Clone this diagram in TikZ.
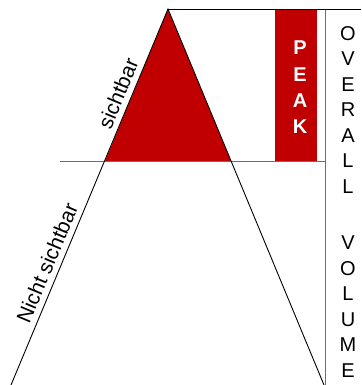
\documentclass[tikz,border=0pt]{standalone}
\usepackage{fontspec}
\setmainfont{Liberation Sans}
\definecolor{peakred}{RGB}{192,0,0}
\definecolor{framegray}{RGB}{110,110,110}

\begin{document}
\begin{tikzpicture}[x=1pt,y=-1pt,
  frame/.style={draw=framegray,line width=0.9pt},
  edge/.style={draw=black,line width=0.9pt},
  slopelabel/.style={sloped,above=5pt,inner sep=1pt,font=\fontsize{21}{24}\selectfont},
  letters/.style={align=center,inner sep=0pt,anchor=north}]
\useasboundingbox (0,0) rectangle (361,385);
\coordinate (apex) at (168,9);
\coordinate (bl) at (105,161);
\coordinate (br) at (231,161);
\coordinate (fl) at (11,385);
\coordinate (fr) at (324,385);
\fill[peakred] (apex) -- (bl) -- (br) -- cycle;
\fill[peakred] (275,9) rectangle (316.5,161);
\draw[frame] (60,161) -- (325.5,161);
\draw[frame] (325.5,9) -- (325.5,385);
\draw[edge] (apex) -- (361,9);
\draw[edge] (fl) -- (apex) -- (fr);
\path (bl) -- (apex) node[slopelabel,pos=0.41] (sicht) {sichtbar};
\path (fl) -- (bl) node[slopelabel,pos=0.52] (nicht) {Nicht sichtbar};
\node[letters,text=white,font=\fontsize{20}{26.1}\selectfont\bfseries] (peak) at (300,41) {P\\E\\A\\K};
\node[letters,font=\fontsize{20}{25.5}\selectfont] (overall) at (348,26)
  {O\\V\\E\\R\\A\\L\\L\\[31.2pt]V\\O\\L\\U\\M\\E};
\end{tikzpicture}
\end{document}
